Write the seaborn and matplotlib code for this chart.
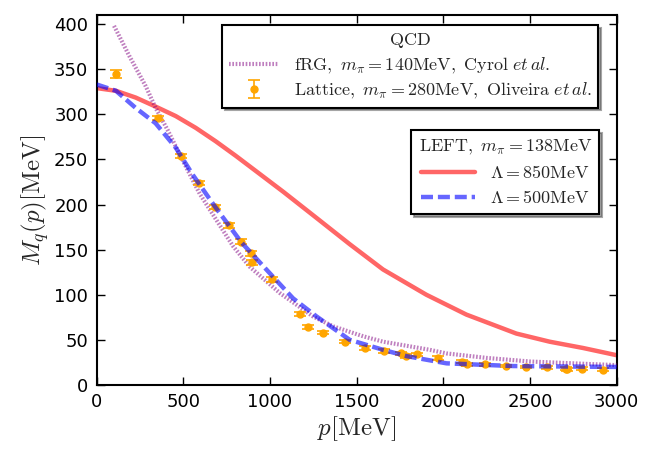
import numpy as np
import pandas as pd
import matplotlib
matplotlib.use("Agg")
import matplotlib.pyplot as plt
import seaborn as sns
from matplotlib.lines import Line2D

# ---- data ----
red_p = [0, 111, 225, 340, 456, 571, 687, 802, 919, 1077, 1269, 1460, 1652, 1902, 2133, 2421, 2613, 2806, 3000]
red_m = [329, 326, 318.5, 308.5, 298, 285, 270, 254, 237, 214, 185, 156, 128, 100, 78, 57, 48, 41, 33]

blue_p = [0, 111, 225, 340, 456, 554, 681, 835, 1017, 1133, 1268, 1460, 1652, 1787, 2018, 2402, 3000]
blue_m = [333, 326, 307, 290, 263, 233, 198, 158, 120, 96, 76, 50, 39, 32, 24, 21, 20]

frg_p = [100, 187, 283, 340, 408, 475, 533, 594, 786, 883, 1056, 1248, 1364, 1537, 1652, 1921, 2018, 2250, 2502, 2750, 3000]
frg_m = [398, 365, 331, 307, 283, 257, 235, 212, 154, 131, 102, 76, 65, 54, 48, 39, 35, 30, 26, 24, 22]

lat_p = [113, 354, 489, 592, 681, 763, 835, 893, 898, 1013, 1171, 1219, 1306, 1435, 1550, 1656,
         1758, 1787, 1846, 1971, 2110, 2136, 2240, 2363, 2479, 2595, 2706, 2714, 2802, 2923]
lat_m = [345, 296, 254, 224, 197, 177, 159, 146, 136, 117, 79, 64, 58, 48, 41, 38,
         35, 32, 34, 30, 26, 23, 23, 21, 20, 19.5, 18, 17.5, 18, 17]
lat_err = [4.5, 2.5, 2.5, 2.5, 2.5, 2.5, 2.5, 2.5, 2.5, 2.5, 2, 2, 2, 2, 2, 2,
           2, 2, 2, 2, 1.5, 1.5, 1.5, 1.5, 1.5, 1.5, 1.5, 1.5, 1.5, 1.5]

x_ticks = [0, 500, 1000, 1500, 2000, 2500, 3000]
y_ticks = [0, 50, 100, 150, 200, 250, 300, 350, 400]

sns.set_style("ticks")
plt.rcParams["mathtext.fontset"] = "cm"
plt.rcParams["font.family"] = ["DejaVu Sans"]

fig = plt.figure(figsize=(6.57, 4.51), dpi=100)
ax = fig.add_axes([96.7 / 657, 1 - 385 / 451, 520 / 657, 370 / 451])

red_df = pd.DataFrame({"p": red_p, "M": red_m})
blue_df = pd.DataFrame({"p": blue_p, "M": blue_m})
frg_df = pd.DataFrame({"p": frg_p, "M": frg_m})

DOT = (0, (0.4, 0.4))
DASH = (0, (2.7, 1.1))

sns.lineplot(data=frg_df, x="p", y="M", ax=ax, color="purple", alpha=0.5, lw=3,
             linestyle=DOT, estimator=None, sort=False, zorder=3)
sns.lineplot(data=red_df, x="p", y="M", ax=ax, color="red", alpha=0.6, lw=3.2,
             estimator=None, sort=False, zorder=2)
sns.lineplot(data=blue_df, x="p", y="M", ax=ax, color="blue", alpha=0.6, lw=3.2,
             linestyle=DASH, estimator=None, sort=False, zorder=4)
eb = ax.errorbar(lat_p, lat_m, yerr=lat_err, fmt="o", color="orange", ms=5,
                 capsize=4, elinewidth=1.2, capthick=1.2, zorder=3)

ax.set_xlim(0, 3000)
ax.set_ylim(0, 410)
ax.set_xticks(x_ticks)
ax.set_yticks(y_ticks)
ax.tick_params(direction="in", top=True, right=True, length=6, width=1,
               labelsize=13, pad=6, colors="black")
for s in ax.spines.values():
    s.set_linewidth(1.5)
    s.set_color("black")

ax.set_xlabel(r"$p[\mathrm{MeV}]$", fontsize=18, labelpad=2)
ax.set_ylabel(r"$M_q(p)[\mathrm{MeV}]$", fontsize=18, labelpad=2)

h_frg = Line2D([], [], color="purple", alpha=0.5, lw=3, linestyle=DOT)
leg1 = ax.legend(handles=[h_frg, eb],
                 labels=[r"$\mathrm{fRG,}\ m_\pi=140\mathrm{MeV,}\ \mathrm{Cyrol}\ et\,al.$",
                         r"$\mathrm{Lattice,}\ m_\pi=280\mathrm{MeV,}\ \mathrm{Oliveira}\ et\,al.$"],
                 title=r"$\mathrm{QCD}$", title_fontsize=13, fontsize=13,
                 loc="upper right", bbox_to_anchor=(0.964, 0.973),
                 frameon=True, fancybox=False, shadow=True, framealpha=1,
                 edgecolor="black", handlelength=2.8, borderpad=0.35,
                 labelspacing=0.3, borderaxespad=0)
leg1.get_frame().set_linewidth(1.5)
ax.add_artist(leg1)

h_red = Line2D([], [], color="red", alpha=0.6, lw=3.2)
h_blue = Line2D([], [], color="blue", alpha=0.6, lw=3.2, linestyle=DASH)
leg2 = ax.legend(handles=[h_red, h_blue],
                 labels=[r"$\Lambda=850\mathrm{MeV}$", r"$\Lambda=500\mathrm{MeV}$"],
                 title=r"$\mathrm{LEFT,}\ m_\pi=138\mathrm{MeV}$", title_fontsize=13, fontsize=13,
                 loc="upper right", bbox_to_anchor=(0.966, 0.689),
                 frameon=True, fancybox=False, shadow=True, framealpha=1,
                 edgecolor="black", handlelength=3.0, borderpad=0.4,
                 labelspacing=0.4, borderaxespad=0)
leg2.get_frame().set_linewidth(1.5)

fig.savefig("out.png", dpi=100)
